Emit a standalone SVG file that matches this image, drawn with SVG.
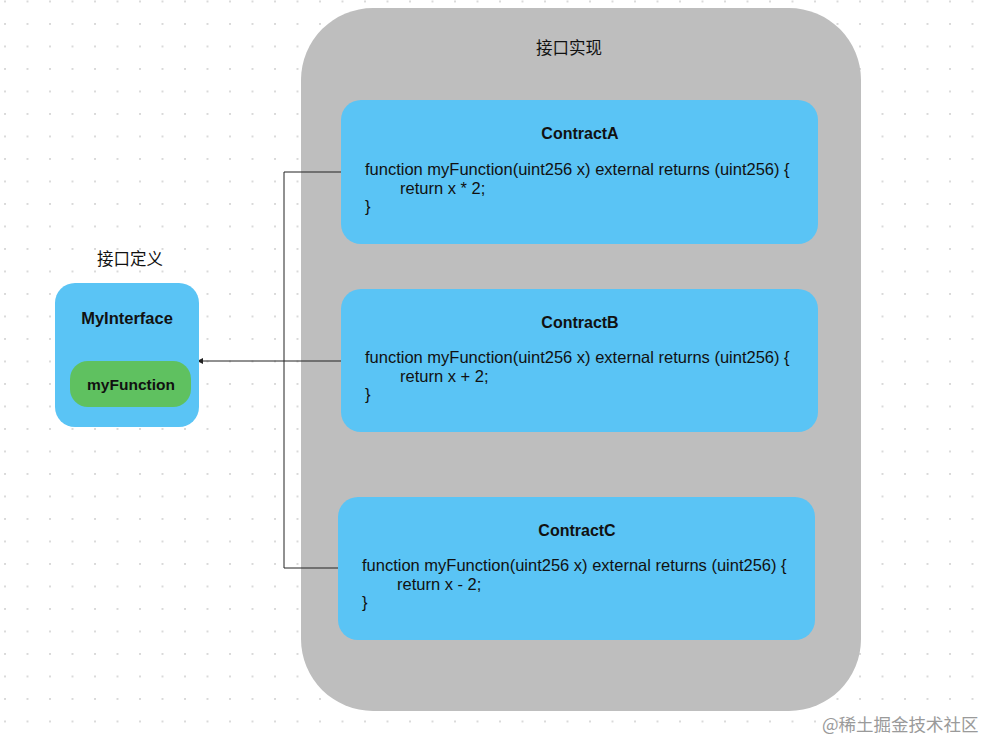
<svg xmlns="http://www.w3.org/2000/svg" width="987" height="742" viewBox="0 0 987 742">
<defs>
<pattern id="dots" x="4" y="0.5" width="22.5" height="22.5" patternUnits="userSpaceOnUse">
<circle cx="1" cy="1" r="1" fill="#cfcfcf"/>
</pattern>
<marker id="arr" markerWidth="8" markerHeight="8" refX="6" refY="4" orient="auto" markerUnits="userSpaceOnUse">
<path d="M0,1 L6,4 L0,7 Z" fill="#222"/>
</marker>
<style>
.t{font-family:"Liberation Sans","Noto Sans CJK SC",sans-serif;fill:#111;}
.b{font-weight:bold;font-size:16px;text-anchor:middle;}
.c{font-size:16.5px;}
.cn{font-size:16.5px;text-anchor:middle;}
.blue{fill:#5AC4F5;}
.conn{fill:none;stroke:#222;stroke-width:1;}
</style>
</defs>
<rect width="987" height="742" fill="#fff"/>
<rect width="987" height="742" fill="url(#dots)"/>
<g id="impl">
<rect x="301" y="8" width="560" height="703" rx="72" ry="72" fill="#BEBEBE"/>
<text class="t cn" x="569" y="54">接口实现</text>
</g>
<g id="connectors">
<path class="conn" d="M341,361 H197" marker-end="url(#arr)"/>
<path class="conn" d="M341,172 H284 V568 H338"/>
</g>
<g id="contractA">
<rect class="blue" x="341" y="100" width="477" height="144" rx="20"/>
<text class="t b" x="580" y="139">ContractA</text>
<text class="t c" x="365" y="175">function myFunction(uint256 x) external returns (uint256) {</text>
<text class="t c" x="400" y="194">return x * 2;</text>
<text class="t c" x="365" y="212">}</text>
</g>
<g id="contractB">
<rect class="blue" x="341" y="289" width="477" height="143" rx="20"/>
<text class="t b" x="580" y="328">ContractB</text>
<text class="t c" x="365" y="363">function myFunction(uint256 x) external returns (uint256) {</text>
<text class="t c" x="400" y="382">return x + 2;</text>
<text class="t c" x="365" y="400">}</text>
</g>
<g id="contractC">
<rect class="blue" x="338" y="497" width="477" height="143" rx="20"/>
<text class="t b" x="577" y="536">ContractC</text>
<text class="t c" x="362" y="571">function myFunction(uint256 x) external returns (uint256) {</text>
<text class="t c" x="397" y="590">return x - 2;</text>
<text class="t c" x="362" y="608">}</text>
</g>
<g id="interface">
<text class="t cn" x="130" y="265">接口定义</text>
<rect class="blue" x="55" y="283" width="144" height="144" rx="20"/>
<text class="t b" x="127" y="324" style="font-size:16.5px">MyInterface</text>
<rect x="70" y="361" width="121" height="46" rx="18" fill="#5FC160"/>
<text class="t b" x="131" y="390" style="font-size:15.5px">myFunction</text>
</g>
<text x="822" y="731" font-family="'Noto Sans CJK SC',sans-serif" font-size="17.5" fill="#9a9a9a">@稀土掘金技术社区</text>
</svg>
